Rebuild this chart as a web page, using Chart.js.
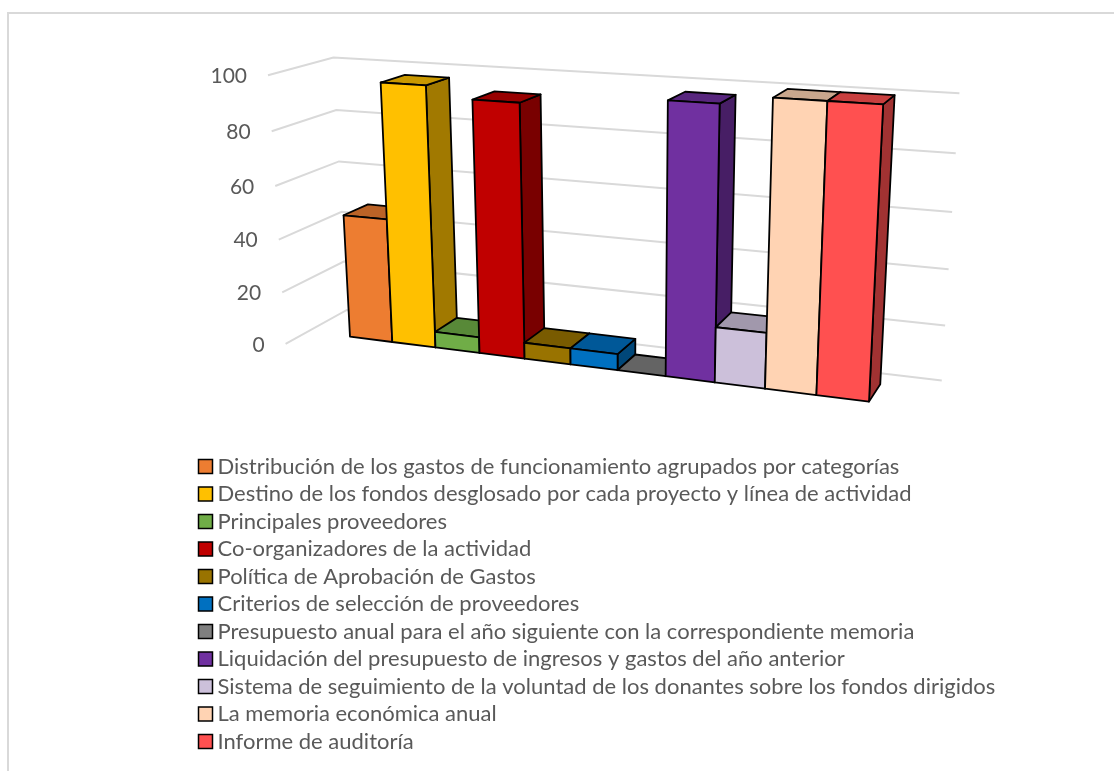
<!DOCTYPE html>
<html>
<head>
<meta charset="utf-8">
<title>Transparencia</title>
<script src="https://cdn.jsdelivr.net/npm/chart.js@4"></script>
<style>
    html, body { margin: 0; padding: 0; background: #fff; overflow: hidden; }
    #frame { position: absolute; left: 7px; top: 12px; width: 1107px; height: 759px; border-top: 2px solid #d9d9d9; border-left: 2px solid #d9d9d9; box-sizing: border-box; }
    #chart { position: absolute; left: 0; top: 0; }
</style>
</head>
<body>
<div id="frame"></div>
<canvas id="chart" width="1114" height="771"></canvas>
<script>
var categories = [
    'Distribución de los gastos de funcionamiento agrupados por categorías',
    'Destino de los fondos desglosado por cada proyecto y línea de actividad',
    'Principales proveedores',
    'Co-organizadores de la actividad',
    'Política de Aprobación de Gastos',
    'Criterios de selección de proveedores',
    'Presupuesto anual para el año siguiente con la correspondiente memoria',
    'Liquidación del presupuesto de ingresos y gastos del año anterior',
    'Sistema de seguimiento de la voluntad de los donantes sobre los fondos dirigidos',
    'La memoria económica anual',
    'Informe de auditoría'
];
var values = [47, 97, 6, 93, 6, 6, 0, 97, 20, 100, 100];
var colors = ['#ED7D31', '#FFC000', '#70AD47', '#C00000', '#997300', '#0070C0', '#7F7F7F', '#7030A0', '#CCC0DA', '#FFD3B3', '#FF5050'];

// Camera: where the three box directions vanish, plus how fast each one recedes
var origin = { x: 350, y: 336.7 };
var vanishU = { x: -3724, y: -173, k: -0.113 };
var vanishV = { x: 625, y: 5530, k: -0.0486 };
var vanishD = { x: 1250, y: -190, k: 0.027 };
// Walls relative to the bar box (u: 0-1 across the bars, d: 0-1 through a bar)
var wallLeft = -0.092, wallRight = 1.097, wallFront = -0.873, wallBack = 1.607;

function project(u, v, d) {
    var a = u * vanishU.k, b = v * vanishV.k, c = d * vanishD.k;
    var w = 1 + a + b + c;
    return {
        x: (origin.x + a * vanishU.x + b * vanishV.x + c * vanishD.x) / w,
        y: (origin.y + a * vanishU.y + b * vanishV.y + c * vanishD.y) / w
    };
}

function shade(hex, f) {
    var n = parseInt(hex.slice(1), 16);
    var r = Math.round((n >> 16 & 255) * f), g = Math.round((n >> 8 & 255) * f), b = Math.round((n & 255) * f);
    return 'rgb(' + r + ',' + g + ',' + b + ')';
}

function face(ctx, pts, fill) {
    ctx.beginPath();
    pts.forEach(function (p, i) {
        if (i === 0) ctx.moveTo(p.x, p.y); else ctx.lineTo(p.x, p.y);
    });
    ctx.closePath();
    ctx.fillStyle = fill;
    ctx.fill();
    ctx.stroke();
}

var perspective = {
    id: 'perspective',
    // Walls and tick labels go under the bars
    beforeDatasetsDraw: function (chart) {
        var ctx = chart.ctx, y = chart.scales.y;
        ctx.save();
        ctx.strokeStyle = '#d9d9d9';
        ctx.lineWidth = 2;
        ctx.fillStyle = '#595959';
        ctx.font = '21px Lato';
        ctx.textAlign = 'right';
        ctx.textBaseline = 'middle';
        y.ticks.forEach(function (t) {
            var v = t.value / y.max;
            var a = project(wallLeft, v, wallFront), b = project(wallLeft, v, wallBack), c = project(wallRight, v, wallBack);
            ctx.beginPath();
            ctx.moveTo(a.x, a.y);
            ctx.lineTo(b.x, b.y);
            ctx.lineTo(c.x, c.y);
            ctx.stroke();
            ctx.fillText(t.label, a.x - 21, a.y + 1);
        });
        ctx.restore();
    },
    // Every bar box comes from the bar element the scales laid out
    afterDatasetsDraw: function (chart) {
        var ctx = chart.ctx, area = chart.chartArea, y = chart.scales.y;
        ctx.save();
        ctx.strokeStyle = '#000';
        ctx.lineWidth = 1.8;
        ctx.lineJoin = 'round';
        chart.getDatasetMeta(0).data.forEach(function (bar, i) {
            var u0 = (bar.x - bar.width / 2 - area.left) / area.width;
            var u1 = (bar.x + bar.width / 2 - area.left) / area.width;
            var v = (y.bottom - bar.y) / (y.bottom - y.top);
            var top = [project(u0, v, 0), project(u1, v, 0), project(u1, v, 1), project(u0, v, 1)];
            var side = [project(u1, 0, 0), project(u1, v, 0), project(u1, v, 1), project(u1, 0, 1)];
            var front = [project(u0, 0, 0), project(u1, 0, 0), project(u1, v, 0), project(u0, v, 0)];
            face(ctx, side, shade(colors[i], 0.63));
            face(ctx, top, shade(colors[i], 0.79));
            if (v > 0) face(ctx, front, colors[i]);
        });
        ctx.restore();
    },
    // Legend keeps a narrow box so the text sits close, the square is painted over it
    afterDraw: function (chart) {
        var ctx = chart.ctx;
        ctx.save();
        ctx.strokeStyle = '#000';
        ctx.lineWidth = 1.5;
        chart.legend.legendHitBoxes.forEach(function (box, i) {
            var top = box.top + box.height / 2 - 7;
            ctx.fillStyle = colors[i];
            ctx.fillRect(box.left, top, 14, 14);
            ctx.strokeRect(box.left, top, 14, 14);
        });
        ctx.restore();
    }
};

new Chart(document.getElementById('chart').getContext('2d'), {
    type: 'bar',
    data: {
        labels: categories,
        datasets: [{
            data: values,
            backgroundColor: 'transparent',
            categoryPercentage: 1,
            barPercentage: 1
        }]
    },
    options: {
        responsive: false,
        animation: false,
        layout: { padding: { left: 193, top: 450 } },
        scales: {
            x: { display: false },
            y: { display: false, min: 0, max: 100, ticks: { stepSize: 20 } }
        },
        plugins: {
            tooltip: { enabled: false },
            legend: {
                position: 'left',
                align: 'start',
                maxWidth: 860,
                labels: {
                    boxWidth: 8,
                    boxHeight: 8,
                    padding: 5.5,
                    font: { family: 'Lato', size: 22 },
                    generateLabels: function () {
                        return categories.map(function (c, i) {
                            return { text: c, fontColor: '#595959', fillStyle: 'transparent', strokeStyle: 'transparent', lineWidth: 0, index: i };
                        });
                    }
                }
            }
        }
    },
    plugins: [perspective]
});
</script>
</body>
</html>
